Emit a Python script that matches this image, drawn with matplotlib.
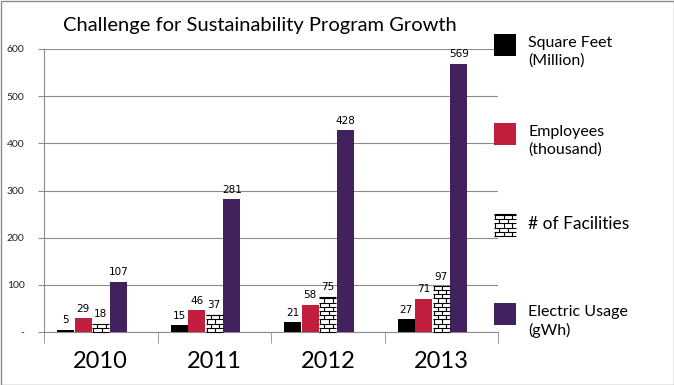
import numpy as np
import matplotlib.pyplot as plt
from matplotlib.patches import Rectangle
from matplotlib.collections import LineCollection
from matplotlib.transforms import IdentityTransform
from matplotlib.ticker import FuncFormatter, FixedLocator

years = ['2010', '2011', '2012', '2013']
series = ['Square Feet\n(Million)', 'Employees\n(thousand)', '# of Facilities', 'Electric Usage\n(gWh)']
sq_feet = [5, 15, 21, 27]
employees = [29, 46, 58, 71]
facilities = [18, 37, 75, 97]
electric = [107, 281, 428, 569]

colors = ['#000000', '#C01E3C', '#ffffff', '#42215F']


def brick(fig, patch, row=4.2, col=8.5):
    """Brick pattern in pixels over a patch (no such hatch in matplotlib)."""
    bb = patch.get_window_extent()
    segs = []
    y = bb.y0
    i = 0
    while y < bb.y1 - 0.5:
        segs.append([(bb.x0, y), (bb.x1, y)])
        for xx in np.arange(bb.x0 + (col/2 if i % 2 else 0) + 1, bb.x1, col):
            segs.append([(xx, y), (xx, min(y + row, bb.y1))])
        y += row
        i += 1
    segs.append([(bb.x0, bb.y1), (bb.x1, bb.y1)])
    fig.add_artist(LineCollection(segs, colors='black', linewidths=0.8,
                                  transform=IdentityTransform(), zorder=5))


fig = plt.figure(figsize=(6.74, 3.85), dpi=100)
ax = fig.add_axes([44/674, 1-332/385, (498-44)/674, (332-49)/385])

x = np.arange(len(years))
w = 0.15
ax.set_xlim(-0.5, 3.5)
ax.set_ylim(0, 600)
for k, vals in enumerate([sq_feet, employees, facilities, electric]):
    bars = ax.bar(x + (k-2)*0.155, vals, w, color=colors[k], linewidth=0, zorder=3)
    ax.bar_label(bars, padding=3, fontsize=7.5, family='DejaVu Sans')
    if k == 2:
        for b in bars:
            brick(fig, b)

ax.yaxis.set_major_locator(FixedLocator([0, 100, 200, 300, 400, 500, 600]))
ax.yaxis.set_major_formatter(FuncFormatter(lambda v, p: '-' if v == 0 else '%d' % v))
ax.grid(axis='y', color='#8c8c8c', linewidth=0.8, zorder=0)
ax.tick_params(axis='y', direction='out', length=4, color='#8c8c8c', labelsize=7.5,
               labelcolor='#222222', pad=10)
for t in ax.get_yticklabels():
    t.set_family('Lato')

ax.set_xticks(x)
ax.set_xticklabels(years, fontsize=17, family='Lato')
ax.tick_params(axis='x', which='major', length=0, pad=14)
ax.set_xticks(np.arange(-0.5, 4, 1), minor=True)
ax.tick_params(axis='x', which='minor', length=8, color='#8c8c8c', direction='out')

for s in ['top', 'right']:
    ax.spines[s].set_visible(False)
for s in ['left', 'bottom']:
    ax.spines[s].set_color('#8c8c8c')
    ax.spines[s].set_linewidth(0.8)

fig.text(260/674, 1-25/385, 'Challenge for Sustainability Program Growth',
         ha='center', va='center', fontsize=14.5, family='Lato')

# legend drawn by hand, the entries are spaced unevenly
leg_y = [45, 134, 225, 314]
for k, name in enumerate(series):
    yc = leg_y[k]
    r = Rectangle((494/674, 1-(yc+11)/385), 22/674, 22/385, transform=fig.transFigure,
                  facecolor=colors[k], linewidth=0)
    fig.patches.append(r)
    if k == 2:
        brick(fig, r)
    fig.text(528/674, 1-(yc-9)/385, name, ha='left', va='top',
             fontsize=12.5 if k == 2 else 11.5, family='Lato', linespacing=1.3)

fig.patches.append(Rectangle((0.5/674, 0.5/385), 673/674, 384/385, transform=fig.transFigure,
                             facecolor='none', edgecolor='#8c8c8c', linewidth=1))

fig.savefig('out.png', dpi=100)
